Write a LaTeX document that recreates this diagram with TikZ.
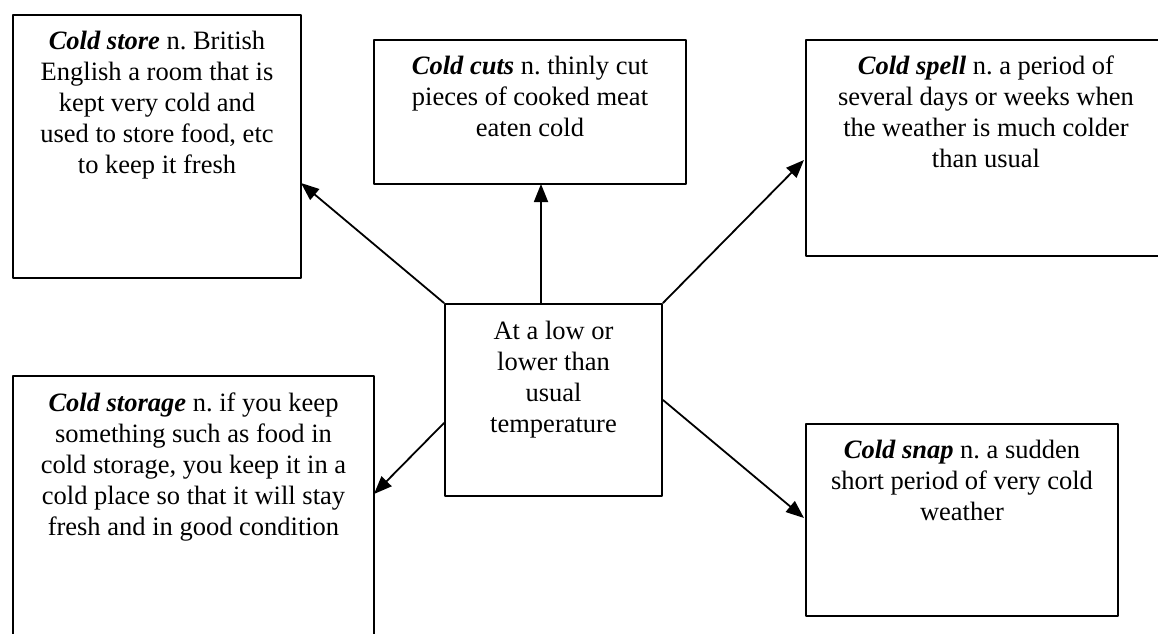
\documentclass[tikz,border=0pt]{standalone}
\usepackage{fontspec}
\setmainfont{Liberation Serif}
\usetikzlibrary{arrows.meta}
\usetikzlibrary{positioning}

\tikzset{
  defbox/.style={draw,line width=1pt,inner sep=0pt,anchor=north west},
  deftext/.style={align=center,inner sep=0pt,font=\fontsize{13.25}{15.5}\selectfont},
  link/.style={->,line width=0.9pt}
}

\begin{document}
\begin{tikzpicture}[line cap=round,line join=round,>={Triangle[length=9pt,width=7pt]},x=0.5pt,y=-0.5pt]
\useasboundingbox (0,0) rectangle (1158,633);
\clip (0,0) rectangle (1158,633);
%
\node[defbox,minimum width=144pt,minimum height=131.5pt] (store) at (12,14) {};
\node[defbox,minimum width=156pt,minimum height=72pt] (cuts) at (373,39) {};
\node[defbox,minimum width=180pt,minimum height=108pt] (spell) at (805,39) {};
\node[defbox,minimum width=108.5pt,minimum height=96pt] (mid) at (444,303) {};
\node[defbox,minimum width=180.5pt,minimum height=140pt] (storage) at (12,375) {};
\node[defbox,minimum width=156pt,minimum height=96pt] (snap) at (805,423) {};
%
\node[deftext,below=8.5pt of store.north] (storetxt) {\textbf{\textit{Cold store}} n.\ British\\English a room that is\\kept very cold and\\used to store food, etc\\to keep it fresh};
\node[deftext,below=8.5pt of cuts.north] (cutstxt) {\textbf{\textit{Cold cuts}} n.\ thinly cut\\pieces of cooked meat\\eaten cold};
\node[deftext,below=8pt of spell.north] (spelltxt) {\textbf{\textit{Cold spell}} n.\ a period of\\several days or weeks when\\the weather is much colder\\than usual};
\node[deftext,below=9pt of mid.north] (midtxt) {At a low or\\lower than\\usual\\temperature};
\node[deftext,below=8.5pt of storage.north] (storagetxt) {\textbf{\textit{Cold storage}} n.\ if you keep\\something such as food in\\cold storage, you keep it in a\\cold place so that it will stay\\fresh and in good condition};
\node[deftext,below=8.5pt of snap.north] (snaptxt) {\textbf{\textit{Cold snap}} n.\ a sudden\\short period of very cold\\weather};
%
\coordinate (storeIn) at (301,183);
\coordinate (cutsOut) at (541,303);
\coordinate (cutsIn) at (541,184);
\coordinate (spellIn) at (804,160);
\coordinate (storageOut) at (444,423);
\coordinate (storageIn) at (374,494);
\coordinate (snapIn) at (804,518);
%
\draw[link] (mid.north west) -- (storeIn);
\draw[link] (cutsOut) -- (cutsIn);
\draw[link] (mid.north east) -- (spellIn);
\draw[link] (storageOut) -- (storageIn);
\draw[link] (mid.east) -- (snapIn);
\end{tikzpicture}
\end{document}
